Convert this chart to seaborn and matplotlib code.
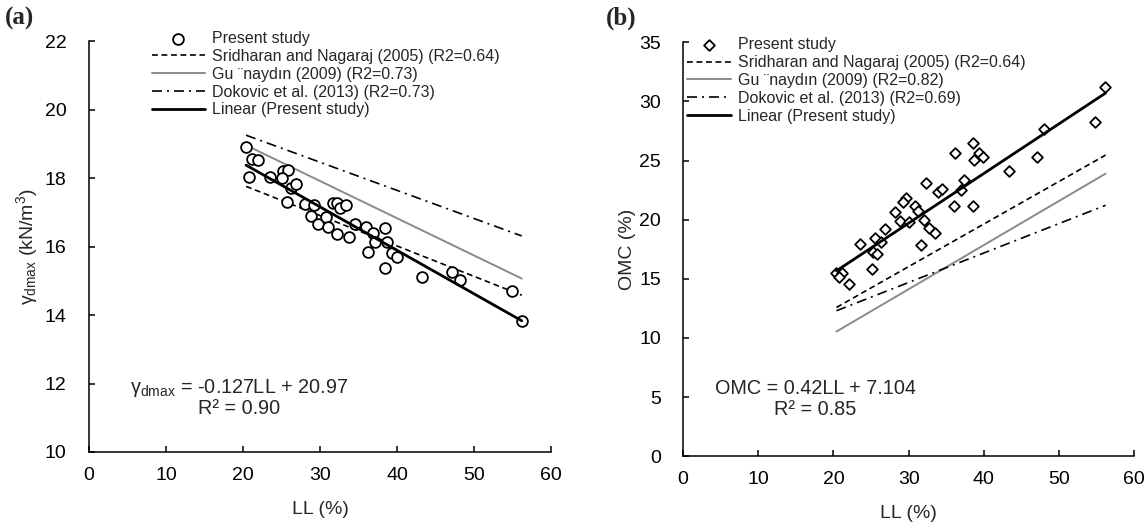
import numpy as np
import pandas as pd
import matplotlib
matplotlib.use("Agg")
import matplotlib.pyplot as plt
import seaborn as sns

# ---------------- data ----------------
ll_a = [20.35, 21.2, 22.0, 20.8, 23.5, 25.15, 25.8, 25.1, 26.2, 26.9, 25.75, 28.1, 29.2,
        28.8, 29.8, 30.8, 31.1, 31.7, 32.2, 32.6, 33.4, 32.2, 33.8, 34.5, 36.0, 36.9,
        38.5, 37.2, 38.7, 36.2, 39.3, 40.0, 38.5, 43.2, 47.1, 48.2, 54.9, 56.2]
gd_a = [18.91, 18.57, 18.53, 18.02, 18.02, 18.21, 18.23, 18.0, 17.7, 17.82, 17.31, 17.23, 17.21,
        16.89, 16.66, 16.87, 16.58, 17.26, 17.26, 17.12, 17.21, 16.37, 16.27, 16.66, 16.58, 16.41,
        16.53, 16.14, 16.14, 15.85, 15.81, 15.70, 15.38, 15.12, 15.26, 15.02, 14.71, 13.83]

ll_b = [38.5, 36.2, 39.4, 38.7, 39.9, 43.3, 32.3, 37.3, 36.9, 33.9, 34.5, 36.0, 38.5, 29.7,
        29.2, 30.8, 31.3, 28.2, 32.1, 28.9, 30.0, 32.7, 33.5, 31.7, 26.9, 25.5, 26.3, 23.5,
        25.3, 25.8, 25.1, 20.4, 21.2, 20.8, 22.1, 56.1, 48.0, 54.8, 47.1]
omc_b = [26.52, 25.64, 25.64, 25.08, 25.3, 24.12, 23.14, 23.39, 22.54, 22.34, 22.63, 21.13, 21.13, 21.87,
         21.5, 21.13, 20.74, 20.63, 19.95, 19.89, 19.81, 19.27, 18.83, 17.86, 19.19, 18.49, 18.12, 17.92,
         17.27, 17.08, 15.81, 15.5, 15.5, 15.16, 14.6, 31.2, 27.64, 28.26, 25.3]

ll_range = [20.4, 56.2]

# correlation lines: (slope, intercept)
a_sridharan = (-0.0888, 19.57)
a_gunaydin = (-0.1088, 21.18)
a_dokovic = (-0.0822, 20.93)
a_linear = (-0.127, 20.97)

b_sridharan = (0.360, 5.23)
b_gunaydin = (0.373, 2.93)
b_dokovic = (0.249, 7.22)
b_linear = (0.42, 7.104)

labels_a = ["Present study", "Sridharan and Nagaraj (2005) (R2=0.64)",
            "Gu \u00a8naydın (2009) (R2=0.73)", "Dokovic et al. (2013) (R2=0.73)",
            "Linear (Present study)"]
labels_b = ["Present study", "Sridharan and Nagaraj (2005) (R2=0.64)",
            "Gu \u00a8naydın (2009) (R2=0.82)", "Dokovic et al. (2013) (R2=0.69)",
            "Linear (Present study)"]

# ---------------- style ----------------
sns.set_theme(style="ticks")
plt.rcParams["font.family"] = ["Liberation Sans", "DejaVu Sans"]
plt.rcParams["mathtext.fontset"] = "custom"
plt.rcParams["mathtext.rm"] = "Liberation Sans"
plt.rcParams["mathtext.it"] = "Liberation Sans"
plt.rcParams.update({
    "xtick.direction": "in", "ytick.direction": "in",
    "xtick.major.size": 4, "ytick.major.size": 4,
    "xtick.major.width": 1.1, "ytick.major.width": 1.1,
    "axes.linewidth": 1.1, "axes.edgecolor": "black",
    "xtick.color": "black", "ytick.color": "black",
    "xtick.labelsize": 14, "ytick.labelsize": 14,
    "axes.labelsize": 14,
    "xtick.major.pad": 11, "ytick.major.pad": 16,
})

fig = plt.figure(figsize=(11.48, 5.28), dpi=100)
ax1 = fig.add_axes([0.0775, 0.144, 0.4025, 0.778])
ax2 = fig.add_axes([0.595, 0.136, 0.393, 0.784])

GRAY = "#8a8a8a"
DASH = (0, (3.5, 2.2))
DASHDOT = (0, (6, 3, 1.2, 3))


def line_df(coef):
    x = np.array(ll_range)
    return pd.DataFrame({"x": x, "y": coef[0] * x + coef[1]})


def draw(ax, xs, ys, marker, msize, coefs, labels):
    sns.scatterplot(x=xs, y=ys, ax=ax, marker=marker, s=msize, facecolor="white",
                    edgecolor="black", linewidth=1.3, label=labels[0], zorder=3)
    styles = [(DASH, "black", 1.2), ("-", GRAY, 1.4), (DASHDOT, "black", 1.2), ("-", "black", 2.0)]
    for coef, (ls, col, lw), lab in zip(coefs, styles, labels[1:]):
        d = line_df(coef)
        sns.lineplot(data=d, x="x", y="y", ax=ax, color=col, linewidth=lw,
                     linestyle=ls, label=lab, zorder=4 if lab.startswith("Linear") else 2)
    sns.despine(ax=ax)
    ax.set_xlim(0, 60)
    ax.set_xticks(range(0, 61, 10))
    ax.set_xlabel("LL (%)", labelpad=12)


draw(ax1, ll_a, gd_a, "o", 60, [a_sridharan, a_gunaydin, a_dokovic, a_linear], labels_a)
ax1.set_ylim(10, 22)
ax1.set_yticks(range(10, 23, 2))
ax1.set_ylabel(r"$\mathregular{\gamma_{dmax}}$ (kN/m$\mathregular{^3}$)")
ax1.yaxis.set_label_coords(-0.105, 0.5)

draw(ax2, ll_b, omc_b, "D", 30, [b_sridharan, b_gunaydin, b_dokovic, b_linear], labels_b)
ax2.set_ylim(0, 35)
ax2.set_yticks(range(0, 36, 5))
ax2.set_ylabel("OMC (%)")
ax2.yaxis.set_label_coords(-0.105, 0.5)

leg_kw = dict(loc="upper left", frameon=False, fontsize=11.5,
              handletextpad=0.45, borderpad=0, borderaxespad=0, labelspacing=0.18)
ax1.legend(bbox_to_anchor=(0.136, 1.025), handlelength=3.3, **leg_kw)
ax2.legend(bbox_to_anchor=(0.009, 1.012), handlelength=2.75, **leg_kw)

# equations
ax1.text(5.3, 11.87, r"$\mathregular{\gamma_{dmax}}$ = -0.127LL + 20.97", fontsize=14.3, va="center")
ax1.text(14.2, 11.26, "R² = 0.90", fontsize=14.3, va="center")
ax2.text(4.3, 5.75, "OMC = 0.42LL + 7.104", fontsize=14.3, va="center")
ax2.text(12.1, 3.97, "R² = 0.85", fontsize=14.3, va="center")

# panel tags
fig.text(0.004, 0.965, "(a)", fontsize=18, fontweight="bold", family="Liberation Serif", va="center")
fig.text(0.528, 0.965, "(b)", fontsize=18, fontweight="bold", family="Liberation Serif", va="center")

fig.savefig("out.png", dpi=100)
